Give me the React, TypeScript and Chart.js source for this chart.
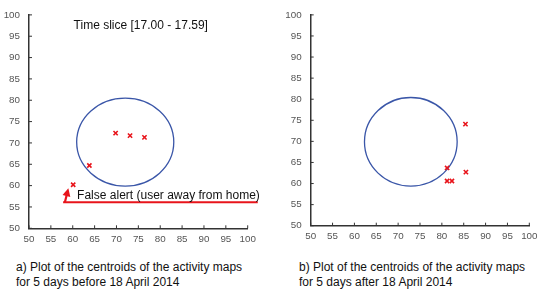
import React, { useEffect, useRef } from 'react';
import { Chart, registerables } from 'chart.js';

Chart.register(...registerables);

// ---- data ----
const axisMin = 50;
const axisMax = 100;
const tickStep = 5;

const beforeX = [69.8, 73.1, 76.4, 63.8, 60.1];
const beforeY = [72.3, 71.7, 71.3, 64.7, 60.2];
const afterX = [85.4, 81.2, 85.5, 81.2, 82.3];
const afterY = [74.1, 63.7, 62.7, 60.6, 60.6];

const beforeCircleCenter = [72.0, 70.2];
const beforeCircleRadius = [11.1, 10.3];
const afterCircleCenter = [72.9, 69.9];
const afterCircleRadius = [10.6, 10.5];

const titleText = 'Time slice [17.00 - 17.59]';
const alertText = 'False alert (user away from home)';
const captionA = ['a) Plot of the centroids of the activity maps', 'for 5 days before 18 April 2014'];
const captionB = ['b) Plot of the centroids of the activity maps', 'for 5 days after 18 April 2014'];

const FONT = '"Liberation Sans", Arial, sans-serif';

type PanelCfg = {
  xs: number[];
  ys: number[];
  center: number[];
  radius: number[];
  yAxisWidth: number;
  padRight: number;
  padTop: number;
  xAxisHeight: number;
  showTitle: boolean;
  showAlert: boolean;
};

const overlayPlugin = {
  id: 'overlay',
  beforeDatasetsDraw(chart: any, _args: any, opts: any) {
    const { ctx, chartArea, scales } = chart;
    const xs = scales.x;
    const ys = scales.y;
    ctx.save();
    // inward ticks
    ctx.strokeStyle = '#333';
    ctx.lineWidth = 1;
    for (let v = axisMin; v <= axisMax; v += tickStep) {
      const py = ys.getPixelForValue(v);
      ctx.beginPath();
      ctx.moveTo(chartArea.left, py);
      ctx.lineTo(chartArea.left + 3, py);
      ctx.stroke();
      const px = xs.getPixelForValue(v);
      ctx.beginPath();
      ctx.moveTo(px, chartArea.bottom);
      ctx.lineTo(px, chartArea.bottom - 3);
      ctx.stroke();
    }
    // ellipse
    const c = opts.center;
    const r = opts.radius;
    const cx = xs.getPixelForValue(c[0]);
    const cy = ys.getPixelForValue(c[1]);
    const rx = Math.abs(xs.getPixelForValue(c[0] + r[0]) - cx);
    const ry = Math.abs(ys.getPixelForValue(c[1] + r[1]) - cy);
    ctx.strokeStyle = '#3a56a8';
    ctx.lineWidth = 1.3;
    ctx.beginPath();
    ctx.ellipse(cx, cy, rx, ry, 0, 0, Math.PI * 2);
    ctx.stroke();

    if (opts.showTitle) {
      ctx.fillStyle = '#111';
      ctx.font = `12px ${FONT}`;
      ctx.textBaseline = 'middle';
      ctx.textAlign = 'left';
      ctx.fillText(titleText, xs.getPixelForValue(60.2), ys.getPixelForValue(97.4));
    }
    if (opts.showAlert) {
      const ly = ys.getPixelForValue(56.1);
      ctx.strokeStyle = '#e8141b';
      ctx.lineWidth = 2;
      ctx.beginPath();
      ctx.moveTo(xs.getPixelForValue(57.8), ly);
      ctx.lineTo(xs.getPixelForValue(102.3), ly);
      ctx.stroke();
      // arrow
      const bx = xs.getPixelForValue(58.2);
      const tx = xs.getPixelForValue(59.0);
      const ty = ys.getPixelForValue(59.4);
      ctx.lineWidth = 2.2;
      ctx.beginPath();
      ctx.moveTo(bx, ly);
      ctx.lineTo(bx + (tx - bx) * 0.55, ly + (ty - ly) * 0.55);
      ctx.stroke();
      const ang = Math.atan2(ty - ly, tx - bx);
      ctx.fillStyle = '#e8141b';
      ctx.beginPath();
      ctx.moveTo(tx, ty);
      ctx.lineTo(tx - 8 * Math.cos(ang) + 4 * Math.sin(ang), ty - 8 * Math.sin(ang) - 4 * Math.cos(ang));
      ctx.lineTo(tx - 8 * Math.cos(ang) - 4 * Math.sin(ang), ty - 8 * Math.sin(ang) + 4 * Math.cos(ang));
      ctx.closePath();
      ctx.fill();
      ctx.fillStyle = '#111';
      ctx.font = `12px ${FONT}`;
      ctx.textBaseline = 'middle';
      ctx.textAlign = 'left';
      ctx.fillText(alertText, xs.getPixelForValue(61.0), ys.getPixelForValue(57.6));
    }
    ctx.restore();
  },
};

function Panel({ cfg, left }: { cfg: PanelCfg; left: number }) {
  const ref = useRef<HTMLCanvasElement>(null);
  useEffect(() => {
    if (!ref.current) return;
    const tickFont = { family: FONT, size: 9.8 };
    const chart = new Chart(ref.current, {
      type: 'scatter',
      data: {
        datasets: [
          {
            data: cfg.xs.map((x, i) => ({ x, y: cfg.ys[i] })),
            pointStyle: 'crossRot',
            pointRadius: 3,
            borderColor: '#e8141b',
            backgroundColor: '#e8141b',
            pointBorderWidth: 1.6,
          },
        ],
      },
      options: {
        animation: false,
        responsive: false,
        maintainAspectRatio: false,
        layout: { padding: { left: 0, right: cfg.padRight, top: cfg.padTop, bottom: 0 } },
        plugins: {
          legend: { display: false },
          tooltip: { enabled: false },
          overlay: {
            center: cfg.center,
            radius: cfg.radius,
            showTitle: cfg.showTitle,
            showAlert: cfg.showAlert,
          },
        } as any,
        scales: {
          x: {
            type: 'linear',
            min: axisMin,
            max: axisMax,
            ticks: { stepSize: tickStep, color: '#555', font: tickFont, padding: 5, maxRotation: 0 },
            grid: { drawOnChartArea: false, drawTicks: false },
            border: { display: true, color: '#333', width: 1.5 },
            afterFit: (s: any) => {
              s.height = cfg.xAxisHeight;
            },
          },
          y: {
            type: 'linear',
            min: axisMin,
            max: axisMax,
            ticks: { stepSize: tickStep, color: '#555', font: tickFont, padding: 9 },
            grid: { drawOnChartArea: false, drawTicks: false },
            border: { display: true, color: '#333', width: 1.5 },
            afterFit: (s: any) => {
              s.width = cfg.yAxisWidth;
            },
          },
        },
      },
      plugins: [overlayPlugin],
    });
    return () => chart.destroy();
  }, []);
  return (
    <canvas
      ref={ref}
      width={275}
      height={250}
      style={{ position: 'absolute', left, top: 0, width: 275, height: 250 }}
    />
  );
}

const leftCfg: PanelCfg = {
  xs: beforeX,
  ys: beforeY,
  center: beforeCircleCenter,
  radius: beforeCircleRadius,
  yAxisWidth: 29,
  padRight: 27.3,
  padTop: 14,
  xAxisHeight: 21.7,
  showTitle: true,
  showAlert: true,
};

const rightCfg: PanelCfg = {
  xs: afterX,
  ys: afterY,
  center: afterCircleCenter,
  radius: afterCircleRadius,
  yAxisWidth: 35.7,
  padRight: 20.7,
  padTop: 12.5,
  xAxisHeight: 24.3,
  showTitle: false,
  showAlert: false,
};

const captionStyle: React.CSSProperties = {
  position: 'absolute',
  top: 260,
  fontFamily: FONT,
  fontSize: 12,
  lineHeight: '15px',
  color: '#111',
  whiteSpace: 'nowrap',
};

export default function App() {
  return (
    <div style={{ position: 'absolute', left: 0, top: 0, width: 550, height: 294, background: '#fff' }}>
      <Panel cfg={leftCfg} left={0} />
      <Panel cfg={rightCfg} left={275} />
      <div style={{ ...captionStyle, left: 16 }}>
        {captionA[0]}
        <br />
        {captionA[1]}
      </div>
      <div style={{ ...captionStyle, left: 299 }}>
        {captionB[0]}
        <br />
        {captionB[1]}
      </div>
    </div>
  );
}
